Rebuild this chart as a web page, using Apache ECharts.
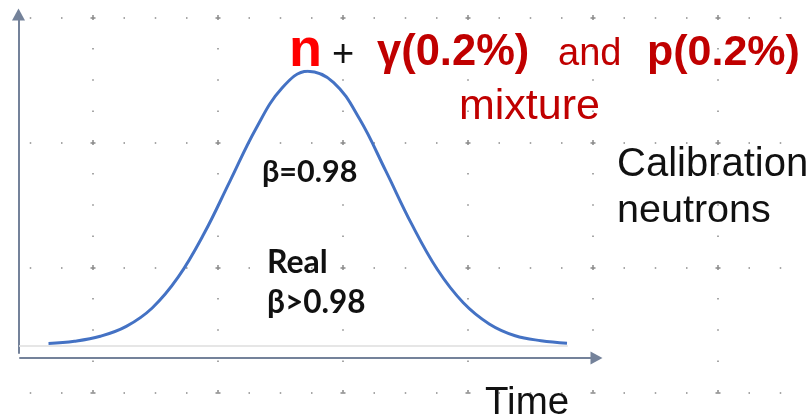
<!DOCTYPE html>
<html>
<head>
<meta charset="utf-8">
<script src="https://cdn.jsdelivr.net/npm/echarts@6/dist/echarts.min.js"></script>
<style>
  html, body { margin: 0; padding: 0; background: #ffffff; }
  #chart { width: 807px; height: 417px; }
</style>
</head>
<body>
<div id="chart"></div>
<script>
// Time samples (arbitrary units) and the calibration-neutron time distribution
const timeValues = [0, 5, 10, 15, 20, 25, 30, 35, 40, 45, 50, 55, 60, 65, 70, 75, 80, 85, 90, 95, 100];
const counts = [0.8, 1.6, 3.4, 7.0, 13.7, 24.9, 40.8, 59.9, 79.0, 93.7, 99.9, 95.8, 82.5, 63.8, 44.4, 27.7, 15.6, 7.9, 3.6, 1.8, 0.9];

const axisTitleX = 'Time';
const titleParts = ['n', '+', 'γ(0.2%)', 'and', 'p(0.2%)', 'mixture'];
const calibLines = ['Calibration', 'neutrons'];
const betaLabels = ['β=0.98', 'Real', 'β>0.98'];

const curveData = timeValues.map((t, i) => [t, counts[i]]);

const chart = echarts.init(document.getElementById('chart'), null, { renderer: 'canvas' });

const dotPattern = [5, 28, 1.5, 29.75, 1.5, 29.75, 1.5, 28];
const dotStyle = { color: '#8a8a8a', width: 1.5, type: dotPattern, dashOffset: 2.5 };
const axisColor = '#74829a';

const redDark = '#c00000';
const sans = 'Liberation Sans, Arial, sans-serif';
const calibri = 'Lato, sans-serif';

// x, baseline y, size
function txt(text, x, base, size, weight, color, family, k) {
  return {
    type: 'text', x: x, y: base - k * size, z: 100,
    style: { text: text, fill: color, font: weight + ' ' + size + 'px ' + family, verticalAlign: 'top', align: 'left' }
  };
}

const option = {
  animation: false,
  backgroundColor: '#ffffff',
  grid: [
    { left: -32, top: -107.5, right: -36, bottom: 24.5, containLabel: false, outerBoundsMode: 'none' },
    { left: 18.5, top: 14.5, right: 100, bottom: 64, containLabel: false },
    { left: 20, top: 100, right: 210.5, bottom: 59, containLabel: false },
    { left: 20, top: 71, right: 240, bottom: 71.4, containLabel: false }
  ],
  xAxis: [
    { gridIndex: 0, type: 'value', min: 0, max: 875, interval: 125, axisLine: { show: false }, axisTick: { show: false }, axisLabel: { show: false }, splitLine: { show: true, lineStyle: dotStyle } },
    { gridIndex: 1, type: 'value', show: false },
    { gridIndex: 2, type: 'value', min: 0, max: 100,
      axisLine: { show: true, symbol: ['none', 'triangle'], symbolSize: [13, 12], lineStyle: { color: axisColor, width: 2 } },
      axisTick: { show: false }, axisLabel: { show: false }, splitLine: { show: false } },
    { gridIndex: 3, type: 'value', min: -5.5, max: 100,
      axisLine: { show: true, onZero: false, lineStyle: { color: '#e6e6e6', width: 2 } },
      axisTick: { show: false }, axisLabel: { show: false }, splitLine: { show: false } }
  ],
  yAxis: [
    { gridIndex: 0, type: 'value', inverse: true, min: 0, max: 500, interval: 125, axisLine: { show: false }, axisTick: { show: false }, axisLabel: { show: false }, splitLine: { show: true, lineStyle: dotStyle } },
    { gridIndex: 1, type: 'value', min: 0, max: 100,
      axisLine: { show: true, symbol: ['none', 'triangle'], symbolSize: [13, 12], lineStyle: { color: axisColor, width: 2 } },
      axisTick: { show: false }, axisLabel: { show: false }, splitLine: { show: false } },
    { gridIndex: 2, type: 'value', show: false },
    { gridIndex: 3, type: 'value', min: 0, max: 100, show: false }
  ],
  series: [
    {
      type: 'line', xAxisIndex: 3, yAxisIndex: 3, data: curveData,
      smooth: 0.4, showSymbol: false, symbol: 'none',
      lineStyle: { color: '#4472c4', width: 3 }, z: 5
    }
  ],
  graphic: [
    txt(titleParts[0], 289, 68, 54, 'bold', '#ff0000', sans, 0.81),
    txt(titleParts[1], 332, 67, 38, 'normal', '#111111', sans, 0.81),
    txt(titleParts[2], 377, 66.5, 43.5, 'bold', redDark, sans, 0.81),
    txt(titleParts[3], 558, 66.5, 38, 'normal', redDark, sans, 0.81),
    txt(titleParts[4], 647, 66.5, 43, 'bold', redDark, sans, 0.81),
    txt(titleParts[5], 459, 120.5, 43, 'normal', redDark, sans, 0.81),
    txt(betaLabels[0], 262, 181.5, 30.5, 'bold', '#111111', calibri, 0.82),
    txt(betaLabels[1], 267, 273, 32, 'bold', '#111111', calibri, 0.82),
    txt(betaLabels[2], 267, 312.5, 31.5, 'bold', '#111111', calibri, 0.82),
    txt(calibLines[0], 617, 177, 40, 'normal', '#111111', sans, 0.81),
    txt(calibLines[1], 617, 223, 39.5, 'normal', '#111111', sans, 0.81),
    txt(axisTitleX, 485, 415, 38.5, 'normal', '#111111', sans, 0.81)
  ]
};

chart.setOption(option);
</script>
</body>
</html>
